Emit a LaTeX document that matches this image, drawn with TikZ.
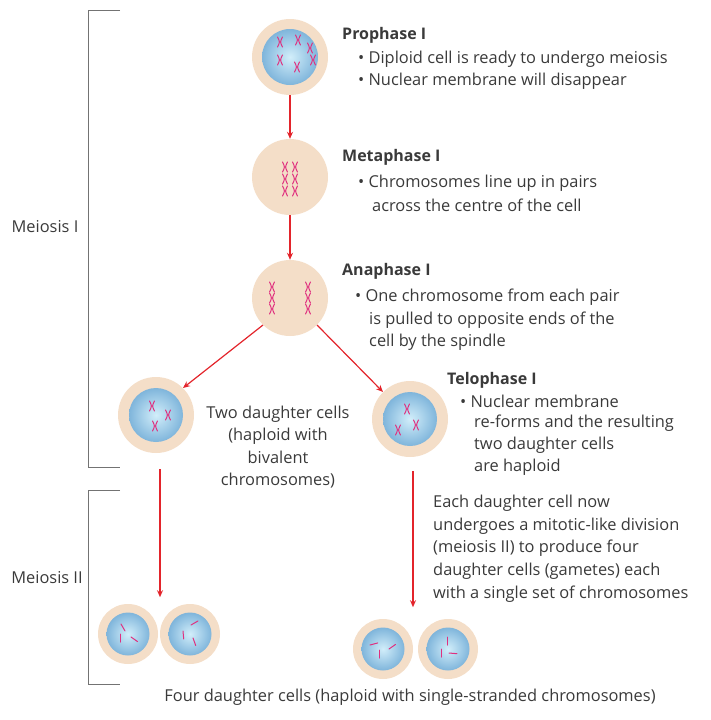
\documentclass[tikz,border=0pt]{standalone}
\usepackage{fontspec}
\setmainfont{Open Sans}
\usetikzlibrary{positioning,arrows.meta}
\definecolor{peach}{HTML}{F4DEC8}
\definecolor{nucin}{HTML}{D2EEFA}
\definecolor{nucout}{HTML}{7FB5DB}
\definecolor{chrom}{HTML}{E0307F}
\definecolor{arr}{HTML}{E3242B}
\definecolor{txt}{HTML}{3A3A3A}
\tikzset{
  cell/.style={circle,fill=peach,minimum size=#1},
  nuc/.style={circle,inner color=nucin,outer color=nucout,minimum size=#1},
  flow/.style={->,>={Stealth[length=7pt,width=6pt]},draw=arr,line width=1.2pt},
  bracket/.style={draw=black!55,line width=0.8pt},
  lbl/.style={anchor=west,inner sep=0pt,text=txt},
  hd/.style={lbl,font=\fontsize{16}{22}\selectfont\bfseries},
}
% an X-shaped chromosome
\newcommand{\xchr}[2]{\draw[chrom,line width=1pt,line cap=round] (#1-2.5,#2-5) .. controls (#1,#2) .. (#1-2.5,#2+5) (#1+2.5,#2-5) .. controls (#1,#2) .. (#1+2.5,#2+5);}
% a single-stranded chromosome
\newcommand{\schr}[3]{\draw[chrom,line width=1pt,line cap=round] (#1,#2) -- ++(#3:8);}
\begin{document}
\begin{tikzpicture}[x=1pt,y=-1pt,font=\fontsize{16.4}{22.6}\selectfont]
\useasboundingbox (0,0) rectangle (710,720);

% cells
\node[cell=76pt] (pro) at (290,57) {};
\node[nuc=56pt] (proN) at (pro) {};
\node[cell=76pt] (meta) at (290,177) {};
\node[cell=76pt] (ana) at (290,298) {};
\node[cell=76pt] (telL) at (156,415) {};
\node[nuc=54pt] (telLN) at (telL) {};
\node[cell=76pt] (telR) at (410,419) {};
\node[nuc=54pt] (telRN) at (telR) {};
\foreach \n/\x/\y in {a/128/634,b/190/634,c/383/649,d/448/649}{
  \node[cell=60pt] (g\n) at (\x,\y) {};
  \node[nuc=43pt] at (g\n) {};
}

% chromosomes
\foreach \x/\y in {280/42,298/40,310/48,280/60,297/67,313/60}{\xchr{\x}{\y}}
\foreach \y in {167,179,191}{\xchr{285}{\y}\xchr{295}{\y}}
\foreach \y in {287,298,309}{\xchr{272}{\y}\xchr{308}{\y}}
\foreach \x/\y in {152/406,168/415,155/426,407/409,398/430,416/425}{\xchr{\x}{\y}}
\schr{121}{624}{60}\schr{120}{634}{90}\schr{131}{637}{35}
\schr{183}{631}{85}\schr{191}{625}{-30}\schr{193}{638}{70}
\schr{370}{645}{-15}\schr{379}{650}{90}\schr{389}{649}{-35}
\schr{447}{637}{90}\schr{441}{649}{90}\schr{449}{653}{5}

% arrows
\draw[flow] (pro.south) -- (meta.north);
\draw[flow] (meta.south) -- (ana.north);
\draw[flow] (ana.south west) -- (telL.north east);
\draw[flow] (ana.south east) -- (telR.north west);
\draw[flow] (telL.south) ++(4,16) -- ++(0,128);
\draw[flow] (telR.south) ++(3,14) -- ++(0,136);

% brackets
\draw[bracket] (120,10) -- (88,10) -- (88,467) -- (120,467);
\draw[bracket] (120,490) -- (88,490) -- (88,684) -- (120,684);
\node[text=txt] (m1) at (45,227) {Meiosis I};
\node[text=txt] (m2) at (47,578) {Meiosis II};

% descriptions
\node[hd] at (342,35) {Prophase I};
\node[lbl] at (358,59) {• Diploid cell is ready to undergo meiosis};
\node[lbl] at (358,81) {• Nuclear membrane will disappear};
\node[hd] at (342,157) {Metaphase I};
\node[lbl] at (358,183) {• Chromosomes line up in pairs};
\node[lbl] at (372,205) {across the centre of the cell};
\node[hd] at (342,271) {Anaphase I};
\node[lbl] at (355,297) {• One chromosome from each pair};
\node[lbl] at (369,320) {is pulled to opposite ends of the};
\node[lbl] at (369,342) {cell by the spindle};
\node[hd] at (447,380) {Telophase I};
\node[lbl] at (460,401) {• Nuclear membrane};
\node[lbl] at (474,423) {re-forms and the resulting};
\node[lbl] at (474,445) {two daughter cells};
\node[lbl] at (474,467) {are haploid};
\node[text=txt,align=center] at (278,447) {Two daughter cells\\(haploid with\\bivalent\\chromosomes)};
\node[lbl,align=left,anchor=north west] at (433,495) {Each daughter cell now\\undergoes a mitotic-like division\\(meiosis II) to produce four\\daughter cells (gametes) each\\with a single set of chromosomes};
\node[text=txt] at (410,697) {Four daughter cells (haploid with single-stranded chromosomes)};
\end{tikzpicture}
\end{document}
